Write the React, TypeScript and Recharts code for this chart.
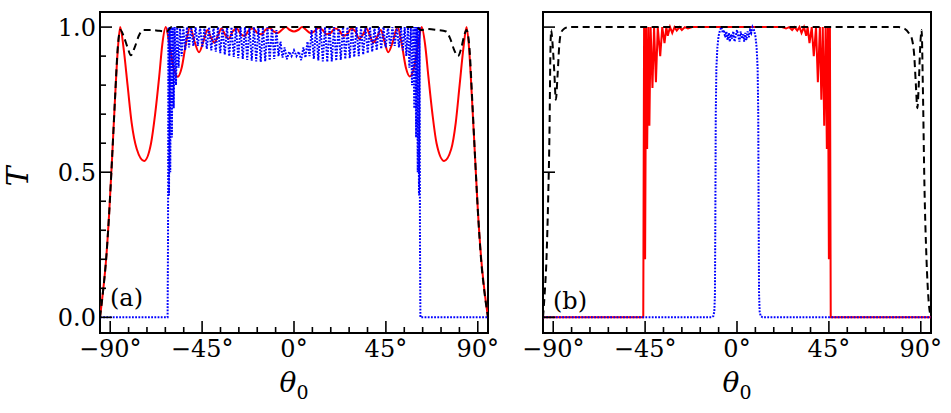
import React from 'react';
import { LineChart, Line, XAxis, YAxis, ReferenceArea } from 'recharts';

// ---- axis ticks & labels ----
const xMajorTicks = [-90, -45, 0, 45, 90];
const xTickLabels = ['\u221290\u00b0', '\u221245\u00b0', '0\u00b0', '45\u00b0', '90\u00b0'];
const xMinorTicks = [-81, -72, -63, -54, -36, -27, -18, -9, 9, 18, 27, 36, 54, 63, 72, 81];
const yMajorTicks = [0, 0.5, 1];
const yTickLabels = ['0.0', '0.5', '1.0'];
const yMinorTicks = [0.1, 0.2, 0.3, 0.4, 0.6, 0.7, 0.8, 0.9];
const panelTags = ['(a)', '(b)'];
const xTitle = '\u03b8';
const xTitleSub = '0';
const yTitle = 'T';

// ---- panel (a) series: [theta0 (deg), T] ----
const redA: [number, number][] = [
  [-95, 0], [-93.5, 0.09], [-92, 0.2], [-90.5, 0.36], [-89, 0.56], [-87.6, 0.76], [-86.3, 0.92], [-85.1, 1.0],
  [-83.5, 0.93], [-81.5, 0.8], [-79.5, 0.67], [-77, 0.58], [-73.4, 0.539], [-70, 0.6], [-68, 0.7], [-66, 0.83],
  [-64.5, 0.94], [-62.8, 1.0], [-61, 0.94], [-59, 0.86], [-56.9, 0.829], [-55, 0.86], [-53, 0.94], [-50.9, 1.0],
  [-48.7, 0.95], [-46.5, 0.913], [-44.4, 0.95], [-42.4, 0.99], [-40.7, 0.965], [-39, 0.946], [-37.3, 0.97],
  [-35.5, 0.995], [-33.8, 0.975], [-32, 0.96], [-30, 0.985], [-28, 0.995], [-26, 0.975], [-24, 0.97], [-22, 0.99],
  [-20, 0.995], [-18, 0.98], [-16, 0.975], [-14, 0.99], [-12, 0.998], [-10, 0.985], [-8, 0.98], [-6, 0.99],
  [-4, 1.0], [-2, 0.99], [0, 0.985], [2, 0.99], [4, 1.0], [6, 0.99], [8, 0.98], [10, 0.985], [12, 0.998],
  [14, 0.99], [16, 0.975], [18, 0.98], [20, 0.995], [22, 0.99], [24, 0.97], [26, 0.975], [28, 0.995], [30, 0.985],
  [32, 0.96], [33.8, 0.975], [35.5, 0.995], [37.2, 0.97], [38.8, 0.946], [40.6, 0.965], [42.5, 0.99], [44.3, 0.95],
  [46.1, 0.913], [48.4, 0.95], [50.7, 1.0], [52.8, 0.94], [54.8, 0.86], [56.7, 0.83], [58.8, 0.86], [60.8, 0.94],
  [62.5, 1.0], [64.2, 0.94], [65.8, 0.83], [67.8, 0.7], [69.8, 0.6], [73.5, 0.539], [77, 0.58], [79.2, 0.67],
  [81.1, 0.8], [83, 0.93], [84.5, 1.0], [85.8, 0.92], [87.1, 0.76], [88.6, 0.56], [90.1, 0.36], [91.7, 0.2],
  [93.3, 0.09], [95, 0],
];

const blackA: [number, number][] = [
  [-95, 0], [-93.5, 0.09], [-92, 0.2], [-90.5, 0.36], [-89, 0.56], [-87.6, 0.76], [-86.3, 0.93], [-85, 0.99],
  [-83.5, 0.97], [-81.5, 0.93], [-79.9, 0.903], [-78, 0.93], [-76, 0.97], [-73.8, 0.99], [-70, 0.99], [-66, 0.987],
  [-62.3, 0.985], [-60, 1.0], [-40, 1.0], [0, 1.0], [40, 1.0], [60, 1.0], [62, 0.99], [66, 0.993], [70, 0.99],
  [74.5, 0.985], [76.5, 0.96], [78.5, 0.92], [80.3, 0.9], [82, 0.93], [83.3, 0.97], [84.5, 0.99], [85.9, 0.93],
  [87.2, 0.76], [88.6, 0.56], [90.1, 0.36], [91.6, 0.2], [93.2, 0.09], [95, 0],
];

const blueA: [number, number][] = [
  [-95, 0], [-61.9, 0], [-61.7, 0.25], [-61.5, 1.0], [-61.2, 0.42], [-60.9, 1.0], [-60.6, 0.5], [-60.2, 1.0],
  [-59.8, 0.62], [-59.4, 1.0], [-58.9, 0.72], [-58.4, 1.0], [-57.8, 0.8], [-57.2, 1.0], [-56.5, 0.86], [-55.8, 1.0],
  [-55, 0.9], [-54.2, 1.0], [-53.3, 0.92], [-52.4, 1.0], [-51.4, 0.93], [-50.4, 1.0], [-49.3, 0.935], [-48.2, 1.0],
  [-47.1, 0.935], [-46, 1.0], [-44.9, 0.93], [-43.8, 1.0], [-42.7, 0.925], [-41.6, 1.0], [-40.5, 0.92], [-39.4, 1.0],
  [-38.3, 0.915], [-37.2, 1.0], [-36.1, 0.91], [-35, 1.0], [-33.9, 0.905], [-32.8, 1.0], [-31.7, 0.9], [-30.6, 1.0],
  [-29.5, 0.897], [-28.4, 1.0], [-27.3, 0.893], [-26.2, 1.0], [-25.1, 0.89], [-24, 1.0], [-22.9, 0.887], [-21.8, 1.0],
  [-20.7, 0.884], [-19.6, 1.0], [-18.5, 0.882], [-17.4, 1.0], [-16.3, 0.88], [-15.2, 1.0], [-14.1, 0.882], [-13, 1.0],
  [-11.9, 0.885], [-10.8, 1.0], [-9.7, 0.89], [-8.6, 0.99], [-7.6, 0.9], [-6.6, 0.95], [-5.6, 0.895], [-4.6, 0.93],
  [-3.5, 0.889], [-2.4, 0.915], [-1.2, 0.9], [0, 0.92], [1.2, 0.9], [2.4, 0.915], [3.5, 0.886], [4.6, 0.93],
  [5.6, 0.895], [6.6, 0.95], [7.6, 0.9], [8.6, 0.99], [9.7, 0.89], [10.8, 1.0], [11.9, 0.885], [13, 1.0],
  [14.1, 0.882], [15.2, 1.0], [16.3, 0.88], [17.4, 1.0], [18.5, 0.882], [19.6, 1.0], [20.7, 0.884], [21.8, 1.0],
  [22.9, 0.887], [24, 1.0], [25.1, 0.89], [26.2, 1.0], [27.3, 0.893], [28.4, 1.0], [29.5, 0.897], [30.6, 1.0],
  [31.7, 0.9], [32.8, 1.0], [33.9, 0.905], [35, 1.0], [36.1, 0.91], [37.2, 1.0], [38.3, 0.915], [39.4, 1.0],
  [40.5, 0.92], [41.6, 1.0], [42.7, 0.925], [43.8, 1.0], [44.9, 0.93], [46, 1.0], [47.1, 0.935], [48.2, 1.0],
  [49.3, 0.935], [50.4, 1.0], [51.4, 0.93], [52.4, 1.0], [53.3, 0.92], [54.2, 1.0], [55, 0.9], [55.8, 1.0],
  [56.5, 0.86], [57.2, 1.0], [57.8, 0.8], [58.4, 1.0], [58.9, 0.72], [59.4, 1.0], [59.8, 0.62], [60.2, 1.0],
  [60.6, 0.5], [60.9, 1.0], [61.2, 0.42], [61.5, 1.0], [61.7, 0.25], [61.9, 0], [95, 0],
];

// ---- panel (b) series ----
const redB: [number, number][] = [
  [-95, 0], [-45.9, 0], [-45.5, 1.0], [-45.0, 0.2], [-44.5, 1.0], [-44.0, 0.58], [-43.4, 1.0], [-42.9, 0.66],
  [-42.3, 1.0], [-41.4, 0.79], [-40.6, 1.0], [-39.7, 0.81], [-38.8, 1.0], [-37.6, 0.9], [-36.6, 1.0], [-35.5, 0.945],
  [-34.6, 1.0], [-33.9, 0.97], [-32.8, 1.0], [-31.7, 0.98], [-30.6, 1.0], [-29.5, 0.988], [-28.2, 1.0], [-27, 0.99],
  [-25.5, 1.0], [-24, 0.995], [-22, 1.0], [0, 1.0], [22, 1.0], [24, 0.995], [25.5, 1.0], [27, 0.99], [28.2, 1.0],
  [29.5, 0.988], [30.6, 1.0], [31.6, 0.98], [32.8, 1.0], [33.9, 0.97], [34.6, 1.0], [35.5, 0.945], [36.6, 1.0],
  [37.6, 0.9], [38.7, 1.0], [39.6, 0.81], [40.6, 1.0], [41.3, 0.75], [42.0, 1.0], [42.7, 0.66], [43.4, 1.0],
  [44.0, 0.58], [44.5, 1.0], [45.0, 0.2], [45.5, 1.0], [45.9, 0], [95, 0],
];

const blueB: [number, number][] = [
  [-95, 0], [-12.5, 0], [-11.6, 0.004], [-11.1, 0.02], [-10.8, 0.08], [-10.6, 0.35], [-10.4, 0.7], [-10.1, 0.86],
  [-9.6, 0.93], [-9.0, 0.97], [-8.3, 0.99], [-7.6, 1.0], [-7.0, 0.98], [-6.4, 0.99], [-5.8, 0.965], [-5.2, 0.985],
  [-4.6, 0.955], [-4.0, 0.98], [-3.5, 0.95], [-3.0, 0.975], [-2.4, 0.96], [-1.8, 0.985], [-1.2, 0.95], [-0.6, 0.97],
  [0, 0.99], [0.6, 0.97], [1.2, 0.95], [1.8, 0.985], [2.4, 0.96], [3.0, 0.975], [3.5, 0.95], [4.0, 0.98],
  [4.6, 0.955], [5.2, 0.985], [5.8, 0.965], [6.4, 0.99], [7.0, 0.98], [7.6, 1.0], [8.3, 0.99], [9.0, 0.97],
  [9.6, 0.93], [10.1, 0.86], [10.4, 0.7], [10.6, 0.35], [10.8, 0.08], [11.1, 0.02], [11.6, 0.004], [12.5, 0], [95, 0],
];

const blackB: [number, number][] = [
  [-95, 0], [-94.2, 0.08], [-93.3, 0.2], [-92.5, 0.4], [-91.8, 0.65], [-91.4, 0.9], [-91.0, 0.99], [-90.4, 0.95],
  [-89.5, 0.85], [-88.7, 0.75], [-87.9, 0.83], [-87.0, 0.94], [-86.2, 0.98], [-84.5, 0.995], [-82.5, 1.0], [0, 1.0],
  [79, 1.0], [82, 0.995], [84.5, 0.975], [85.8, 0.955], [86.8, 0.9], [87.6, 0.8], [88.3, 0.72], [89.0, 0.8],
  [89.7, 0.93], [90.4, 0.99], [91.0, 0.8], [91.8, 0.45], [92.8, 0.2], [93.8, 0.06], [95, 0],
];

const X_DOMAIN: [number, number] = [-95, 95];
const Y_DOMAIN: [number, number] = [-0.054, 1.052];
const FONT = 'DejaVu Serif';

const toPts = (arr: [number, number][]) => arr.map(([x, T]) => ({ x, T }));

const xAllTicks = [...xMajorTicks, ...xMinorTicks].sort((a, b) => a - b);

function XTick(props: any) {
  const { x, y, payload } = props;
  const idx = xMajorTicks.indexOf(payload.value);
  const major = idx >= 0;
  return (
    <g>
      <line x1={x} x2={x} y1={y} y2={y - (major ? 12 : 6)} stroke="#000" strokeWidth={1.6} />
      {major && (
        <text x={x} y={y + 24} textAnchor="middle" fontFamily={FONT} fontSize={24} fill="#000">
          {xTickLabels[idx]}
        </text>
      )}
    </g>
  );
}

function makeYTick(showLabels: boolean) {
  return function YTick(props: any) {
    const { x, y, payload } = props;
    const idx = yMajorTicks.findIndex((v) => Math.abs(v - payload.value) < 1e-6);
    const major = idx >= 0;
    return (
      <g>
        <line x1={x} x2={x + (major ? 12 : 6)} y1={y} y2={y} stroke="#000" strokeWidth={1.6} />
        {major && showLabels && (
          <text x={x - 4} y={y + 8.5} textAnchor="end" fontFamily={FONT} fontSize={24} fill="#000">
            {yTickLabels[idx]}
          </text>
        )}
      </g>
    );
  };
}

type PanelProps = {
  left: number;
  tag: string;
  tagRaise: number;
  yTicks: number[];
  showYLabels: boolean;
  showYTitle: boolean;
  red: [number, number][];
  blue: [number, number][];
  black: [number, number][];
  redType: 'monotone' | 'linear';
};

function Panel(p: PanelProps) {
  const YTick = makeYTick(p.showYLabels);
  return (
    <div style={{ position: 'absolute', left: p.left, top: 0 }}>
      <LineChart width={500} height={413} margin={{ top: 12, right: 12, bottom: 0, left: 0 }}>
        <XAxis
          type="number"
          dataKey="x"
          domain={X_DOMAIN}
          ticks={xAllTicks}
          interval={0}
          tickSize={0}
          tickMargin={0}
          axisLine={false}
          tickLine={false}
          height={80}
          allowDataOverflow
          tick={(tp: any) => <XTick {...tp} />}
          label={(lp: any) => {
            const vb = lp.viewBox;
            return (
              <text x={vb.x + vb.width / 2} y={vb.y + 59} textAnchor="middle" fontFamily={FONT} fontSize={28} fontStyle="italic" fill="#000">
                {xTitle}
                <tspan fontStyle="normal" fontSize={19} dy={7}>{xTitleSub}</tspan>
              </text>
            );
          }}
        />
        <YAxis
          type="number"
          dataKey="T"
          domain={Y_DOMAIN}
          ticks={p.yTicks}
          interval={0}
          tickSize={0}
          tickMargin={0}
          axisLine={false}
          tickLine={false}
          width={100}
          allowDataOverflow
          tick={(tp: any) => <YTick {...tp} />}
          label={
            p.showYTitle
              ? (lp: any) => {
                  const vb = lp.viewBox;
                  const cx = vb.x + 17;
                  const cy = vb.y + vb.height / 2 + 4;
                  return (
                    <text x={cx} y={cy} transform={`rotate(-90 ${cx} ${cy})`} textAnchor="middle" dominantBaseline="central" fontFamily={FONT} fontSize={30} fontStyle="italic" fill="#000">
                      {yTitle}
                    </text>
                  );
                }
              : undefined
          }
        />
        <ReferenceArea
          x1={X_DOMAIN[0]}
          x2={X_DOMAIN[1]}
          y1={Y_DOMAIN[0]}
          y2={Y_DOMAIN[1]}
          fill="none"
          fillOpacity={0}
          stroke="#000"
          strokeWidth={2}
          label={(lp: any) => {
            const vb = lp.viewBox;
            return (
              <text x={vb.x + 10} y={vb.y + vb.height - p.tagRaise} fontFamily={FONT} fontSize={24} fill="#000">
                {p.tag}
              </text>
            );
          }}
        />
        <Line data={toPts(p.red)} dataKey="T" type={p.redType} stroke="#ff0000" strokeWidth={2} dot={false} activeDot={false} isAnimationActive={false} />
        <Line data={toPts(p.blue)} dataKey="T" type="linear" stroke="#0000ff" strokeWidth={2} strokeDasharray="1.8 1.4" dot={false} activeDot={false} isAnimationActive={false} />
        <Line data={toPts(p.black)} dataKey="T" type="monotone" stroke="#000000" strokeWidth={2} strokeDasharray="7 4.5" dot={false} activeDot={false} isAnimationActive={false} />
      </LineChart>
    </div>
  );
}

const yAllTicksA = [...yMajorTicks, ...yMinorTicks].sort((a, b) => a - b);

export default function App() {
  return (
    <div style={{ position: 'absolute', left: 0, top: 0, width: 951, height: 413, background: '#fff', overflow: 'hidden' }}>
      <Panel left={0} tag={panelTags[0]} tagRaise={27} yTicks={yAllTicksA} showYLabels showYTitle red={redA} blue={blueA} black={blackA} redType="monotone" />
      <Panel left={443} tag={panelTags[1]} tagRaise={24} yTicks={yMajorTicks} showYLabels={false} showYTitle={false} red={redB} blue={blueB} black={blackB} redType="linear" />
    </div>
  );
}
